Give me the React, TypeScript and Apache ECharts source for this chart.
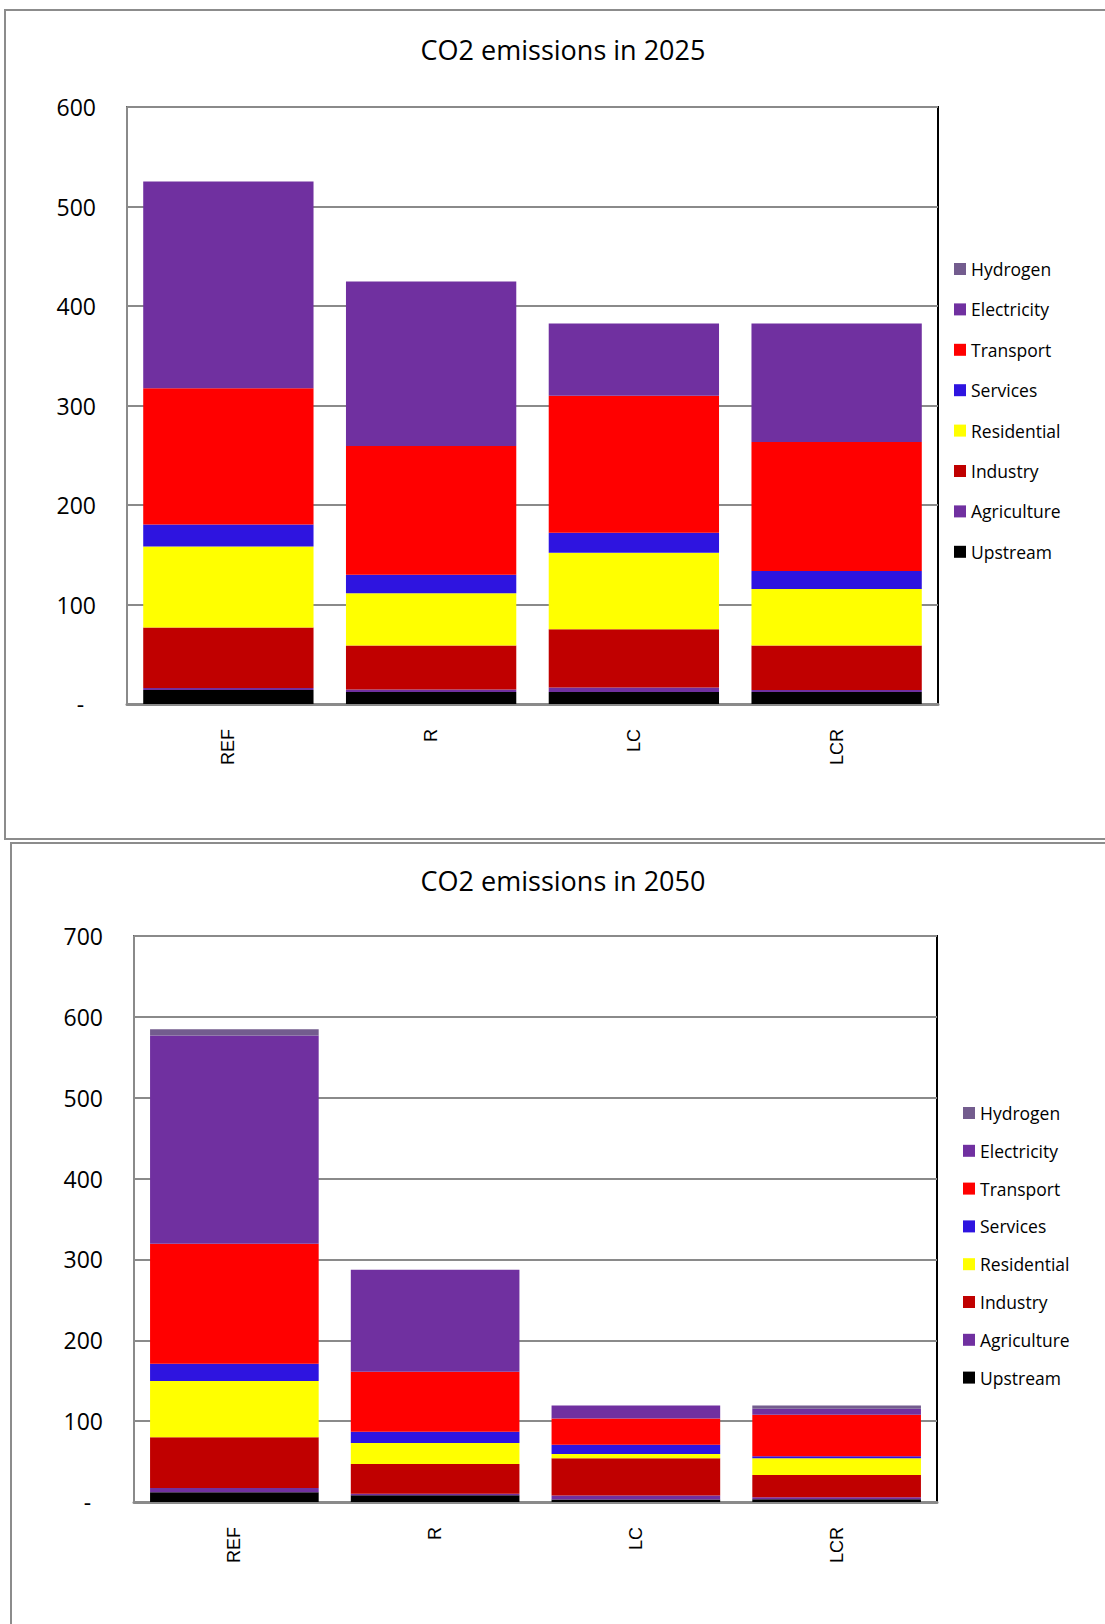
import React, { useEffect, useRef } from "react";
import * as echarts from "echarts";

const categories = ["REF", "R", "LC", "LCR"];
// stack order bottom -> top
const seriesNames = ["Upstream", "Agriculture", "Industry", "Residential", "Services", "Transport", "Electricity", "Hydrogen"];
const legendOrder = ["Hydrogen", "Electricity", "Transport", "Services", "Residential", "Industry", "Agriculture", "Upstream"];
const seriesColors = ["#000000", "#7030A0", "#C00000", "#FFFF00", "#2E14E0", "#FF0000", "#7030A0", "#735C8E"];

// 2025 values
const upstream2025 = [14.1, 12.1, 12.1, 12.1];
const agriculture2025 = [2.1, 2.4, 4.4, 2.0];
const industry2025 = [60.6, 44.4, 58.6, 44.8];
const residential2025 = [81.4, 52.5, 76.8, 56.6];
const services2025 = [22.3, 18.6, 20.2, 18.2];
const transport2025 = [136.8, 129.3, 137.8, 129.6];
const electricity2025 = [207.8, 165.3, 72.4, 119.0];
const hydrogen2025 = [0, 0, 0, 0];

// 2050 values
const upstream2050 = [12.0, 8.3, 3.0, 3.3];
const agriculture2050 = [5.4, 2.0, 4.9, 2.5];
const industry2050 = [62.8, 36.8, 46.2, 27.7];
const residential2050 = [69.4, 26.0, 5.4, 20.6];
const services2050 = [21.5, 13.7, 11.2, 2.5];
const transport2050 = [148.2, 74.4, 32.6, 51.3];
const electricity2050 = [257.7, 126.1, 16.1, 7.4];
const hydrogen2050 = [7.8, 0, 0, 4.1];

const titles = ["CO2 emissions in 2025", "CO2 emissions in 2050"];
const yMax = [600, 700];

const data2025 = [upstream2025, agriculture2025, industry2025, residential2025, services2025, transport2025, electricity2025, hydrogen2025];
const data2050 = [upstream2050, agriculture2050, industry2050, residential2050, services2050, transport2050, electricity2050, hydrogen2050];

const FONT = "'Open Sans', 'Noto Sans', sans-serif";

export default function App() {
  const ref = useRef<HTMLDivElement>(null);
  useEffect(() => {
    if (!ref.current) return;
    const chart = echarts.init(ref.current, undefined, { renderer: "svg" });

    const grids = [
      { left: 127, top: 107, width: 811, height: 597 },
      { left: 134, top: 936, width: 803, height: 566 },
    ];

    const makeX = (gi: number) => ({
      type: "category",
      gridIndex: gi,
      data: categories,
      axisTick: { show: false },
      axisLine: { show: true, lineStyle: { color: "#8a8a8a", width: 3 } },
      axisLabel: {
        rotate: 90,
        margin: 25,
        color: "#000",
        fontSize: 18,
        fontFamily: "'Liberation Sans', Arial, sans-serif",
      },
    });
    const makeY = (gi: number) => ({
      type: "value",
      gridIndex: gi,
      min: 0,
      max: yMax[gi],
      interval: 100,
      axisLine: { show: true, lineStyle: { color: "#8a8a8a", width: 2 } },
      axisTick: { show: false },
      splitLine: { show: true, lineStyle: { color: "#8a8a8a", width: 2 } },
      axisLabel: {
        margin: 31,
        color: "#000",
        fontSize: 23,
        fontFamily: FONT,
        formatter: (v: number) => (v === 0 ? "-\u00a0\u00a0" : String(v)),
      },
    });

    const series: any[] = [];
    [data2025, data2050].forEach((set, gi) => {
      set.forEach((vals, si) => {
        series.push({
          type: "bar",
          name: seriesNames[si],
          xAxisIndex: gi,
          yAxisIndex: gi,
          stack: "s" + gi,
          data: vals,
          barCategoryGap: "16%",
          itemStyle: { color: seriesColors[si] },
          emphasis: { disabled: true },
        });
      });
    });

    const legendCommon = {
      orient: "vertical",
      icon: "rect",
      itemWidth: 12,
      itemHeight: 12,
      data: legendOrder,
      selectedMode: false,
      textStyle: { fontSize: 17.5, fontFamily: FONT, color: "#000", lineHeight: 20 },
    };

    chart.setOption({
      animation: false,
      backgroundColor: "#fff",
      title: [
        { text: titles[0], left: 558, top: 31, textAlign: "center", textStyle: { fontSize: 27, fontWeight: "normal", fontFamily: FONT, color: "#000" } },
        { text: titles[1], left: 558, top: 862, textAlign: "center", textStyle: { fontSize: 27, fontWeight: "normal", fontFamily: FONT, color: "#000" } },
      ],
      legend: [
        { ...legendCommon, left: 949, top: 254, itemGap: 20.4 },
        { ...legendCommon, left: 958, top: 1098, itemGap: 17.8 },
      ],
      grid: grids.map((g) => ({ ...g, show: true, borderColor: "#000", borderWidth: 2, backgroundColor: "transparent" })),
      xAxis: [makeX(0), makeX(1)],
      yAxis: [makeY(0), makeY(1)],
      series,
      graphic: [
        { type: "rect", shape: { x: 5, y: 10, width: 1200, height: 829 }, style: { fill: "none", stroke: "#8c8c8c", lineWidth: 2 }, z: -10 },
        { type: "rect", shape: { x: 11, y: 843, width: 1200, height: 900 }, style: { fill: "none", stroke: "#8c8c8c", lineWidth: 2 }, z: -10 },
      ],
    });

    return () => chart.dispose();
  }, []);

  return (
    <div
      ref={ref}
      style={{ position: "absolute", left: 0, top: 0, width: 1105, height: 1624 }}
    />
  );
}
